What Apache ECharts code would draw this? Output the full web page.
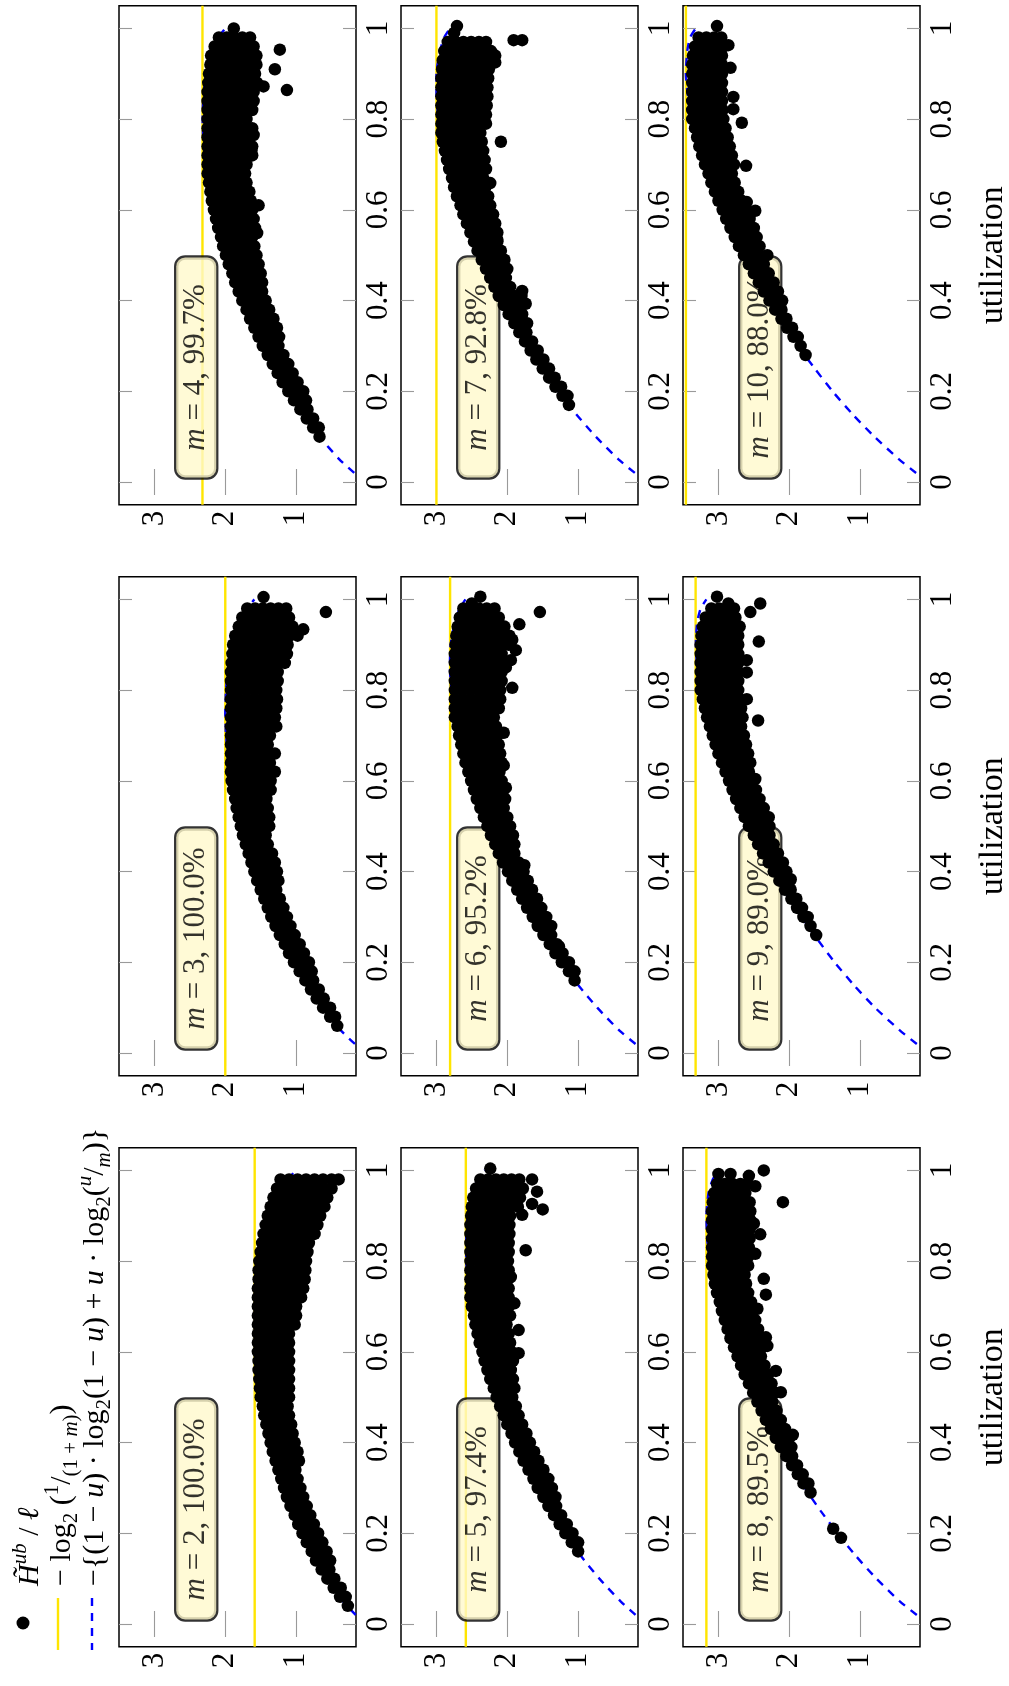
<!DOCTYPE html>
<html>
<head>
<meta charset="utf-8">
<script src="https://cdn.jsdelivr.net/npm/echarts@6.0.0/dist/echarts.min.js"></script>
<style>html,body{margin:0;padding:0;background:#fff}#c{width:1009px;height:1686px}</style>
</head>
<body>
<div id="c"></div>
<script>
// ---------------- data ----------------
const mValues = [2, 3, 4, 5, 6, 7, 8, 9, 10];
const percentLabels = ['100.0', '100.0', '99.7', '97.4', '95.2', '92.8', '89.5', '89.0', '88.0'];
const entropyTicks = [1, 2, 3];
const utilTicks = [0, 0.2, 0.4, 0.6, 0.8, 1];
// -log2(1/(1+m))
const yellowLevels = [1.585, 2.0, 2.322, 2.585, 2.807, 3.0, 3.17, 3.322, 3.459];
// dashed curve, read at these utilizations
const dashU = [0.02,0.05,0.1,0.15,0.2,0.25,0.3,0.35,0.4,0.45,0.5,0.55,0.6,0.65,0.7,0.75,0.8,0.85,0.9,0.95,0.98,1.0];
const dashM2  = [0.16,0.34,0.57,0.76,0.92,1.06,1.18,1.28,1.37,1.44,1.50,1.54,1.57,1.58,1.58,1.56,1.52,1.46,1.37,1.24,1.12,1.00];
const dashM3  = [0.17,0.37,0.63,0.85,1.04,1.21,1.36,1.49,1.61,1.71,1.79,1.86,1.92,1.96,1.99,2.00,1.99,1.96,1.90,1.79,1.69,1.59];
const dashM4  = [0.18,0.39,0.67,0.91,1.12,1.31,1.48,1.63,1.77,1.89,2.00,2.09,2.17,2.23,2.28,2.31,2.32,2.31,2.27,2.19,2.10,2.00];
const dashM5  = [0.19,0.40,0.70,0.96,1.19,1.39,1.58,1.75,1.90,2.04,2.16,2.27,2.36,2.44,2.51,2.55,2.58,2.58,2.56,2.49,2.42,2.32];
const dashM6  = [0.19,0.42,0.73,1.00,1.24,1.46,1.66,1.84,2.01,2.16,2.29,2.41,2.52,2.61,2.69,2.75,2.79,2.81,2.80,2.74,2.67,2.59];
const dashM7  = [0.20,0.43,0.75,1.03,1.28,1.51,1.72,1.92,2.09,2.26,2.40,2.54,2.66,2.76,2.85,2.92,2.97,3.00,3.00,2.95,2.89,2.81];
const dashM8  = [0.20,0.44,0.77,1.06,1.32,1.56,1.78,1.98,2.17,2.34,2.50,2.64,2.77,2.88,2.98,3.06,3.12,3.16,3.17,3.14,3.08,3.00];
const dashM9  = [0.20,0.44,0.79,1.09,1.36,1.60,1.83,2.04,2.24,2.42,2.59,2.74,2.87,2.99,3.10,3.19,3.26,3.30,3.32,3.30,3.25,3.17];
const dashM10 = [0.21,0.45,0.80,1.11,1.39,1.64,1.88,2.10,2.30,2.49,2.66,2.82,2.96,3.09,3.21,3.30,3.38,3.43,3.46,3.44,3.40,3.32];

// scatter points: each row = [utilization, entropy values...]
const dotsM2 = [
[0.04,0.27],[0.06,0.38,0.30],[0.08,0.47,0.37],[0.10,0.56,0.46],[0.12,0.64,0.53],
[0.14,0.72,0.61,0.52],[0.16,0.78,0.67,0.57],[0.18,0.85,0.74,0.63],[0.20,0.91,0.80,0.69],
[0.22,0.97,0.86,0.75],[0.24,1.02,0.91,0.80],[0.26,1.08,0.96,0.85],[0.28,1.13,1.01,0.90],
[0.30,1.17,1.05,0.94],[0.32,1.21,1.09,0.98],[0.34,1.25,1.13,1.01],[0.36,1.29,1.17,1.05,0.96],
[0.38,1.33,1.21,1.09,0.98],[0.40,1.36,1.24,1.12,1.02],[0.42,1.39,1.27,1.15,1.05],
[0.44,1.42,1.30,1.18,1.07],[0.46,1.45,1.33,1.21,1.10],[0.48,1.47,1.35,1.23,1.12],
[0.50,1.50,1.38,1.26,1.14,1.10],[0.52,1.51,1.40,1.28,1.16,1.10],[0.54,1.52,1.41,1.30,1.19,1.10],
[0.56,1.53,1.42,1.31,1.20,1.10],[0.58,1.53,1.43,1.32,1.21,1.10],[0.60,1.54,1.43,1.32,1.21,1.10],
[0.62,1.54,1.43,1.32,1.21,1.10],[0.64,1.54,1.43,1.32,1.21,1.10],[0.66,1.54,1.43,1.32,1.21,1.10,1.02],
[0.68,1.54,1.43,1.32,1.21,1.10,1.00],[0.70,1.54,1.43,1.32,1.21,1.10,1.00],
[0.72,1.54,1.43,1.32,1.21,1.10,0.99,0.93],[0.74,1.54,1.43,1.32,1.21,1.10,0.99,0.90],
[0.76,1.53,1.42,1.31,1.20,1.09,0.98,0.88],[0.78,1.53,1.42,1.31,1.20,1.09,0.98,0.87],
[0.80,1.52,1.41,1.30,1.19,1.08,0.97,0.86],[0.82,1.50,1.39,1.28,1.17,1.06,0.95,0.84],
[0.84,1.48,1.37,1.26,1.15,1.04,0.93,0.82],[0.86,1.46,1.35,1.24,1.13,1.02,0.91,0.80,0.74],
[0.88,1.43,1.32,1.21,1.10,0.99,0.88,0.77,0.70],[0.90,1.40,1.29,1.18,1.07,0.96,0.85,0.74,0.66],
[0.92,1.36,1.25,1.14,1.03,0.92,0.81,0.70,0.60],[0.94,1.32,1.21,1.10,0.99,0.88,0.77,0.66,0.56],
[0.96,1.27,1.16,1.05,0.94,0.83,0.72,0.61,0.50],[0.98,1.22,1.10,0.98,0.86,0.74,0.62,0.50,0.40]
];
const dotsM3 = [
[0.06,0.42],[0.08,0.52,0.45],[0.10,0.62,0.52],[0.12,0.71,0.61],[0.14,0.79,0.68],[0.16,0.87,0.76],
[0.18,0.95,0.84,0.78],[0.20,1.03,0.92,0.82],[0.22,1.10,0.99,0.89],[0.24,1.16,1.05,0.95],
[0.26,1.23,1.12,1.02],[0.28,1.29,1.18,1.08],[0.30,1.35,1.24,1.13],[0.32,1.40,1.29,1.18],
[0.34,1.45,1.34,1.23],[0.36,1.50,1.39,1.28],[0.38,1.55,1.44,1.33,1.25],[0.40,1.59,1.48,1.37,1.27],
[0.42,1.63,1.52,1.41,1.30],[0.44,1.67,1.56,1.45,1.34],[0.46,1.71,1.60,1.49,1.40],
[0.48,1.75,1.64,1.53,1.43],[0.50,1.78,1.67,1.56,1.45,1.38],[0.52,1.81,1.70,1.59,1.48,1.38],
[0.54,1.84,1.73,1.62,1.51,1.40],[0.56,1.86,1.75,1.64,1.53,1.42],[0.58,1.89,1.78,1.67,1.56,1.45,1.36],
[0.60,1.91,1.80,1.69,1.58,1.47,1.36],[0.62,1.92,1.81,1.70,1.59,1.48,1.37,1.30],
[0.64,1.92,1.81,1.70,1.59,1.48,1.37],[0.66,1.92,1.81,1.70,1.59,1.48,1.37,1.30],
[0.68,1.92,1.81,1.70,1.59,1.48,1.40],[0.70,1.92,1.81,1.70,1.59,1.48,1.37],
[0.72,1.92,1.81,1.70,1.59,1.48,1.37,1.28],[0.74,1.92,1.81,1.70,1.59,1.48,1.37,1.30],
[0.76,1.92,1.81,1.70,1.59,1.48,1.37,1.28],[0.78,1.92,1.81,1.70,1.59,1.48,1.37,1.27],
[0.80,1.92,1.81,1.70,1.59,1.48,1.37,1.28],[0.82,1.92,1.81,1.70,1.59,1.48,1.37,1.26],
[0.84,1.92,1.81,1.70,1.59,1.48,1.37,1.26],[0.86,1.91,1.80,1.69,1.58,1.47,1.36,1.25,1.16],
[0.88,1.90,1.79,1.68,1.57,1.46,1.35,1.24,1.13],[0.90,1.89,1.78,1.67,1.56,1.45,1.34,1.23,1.12],
[0.92,1.86,1.75,1.64,1.53,1.42,1.31,1.20,1.09,0.98],[0.94,1.81,1.70,1.59,1.48,1.37,1.26,1.15,1.05],
[0.96,1.76,1.65,1.54,1.43,1.32,1.21,1.10],[0.98,1.69,1.58,1.47,1.36,1.25,1.14],
[1.005,1.46],[0.972,0.58],[0.934,0.90]
];
const dotsM4 = [
[0.10,0.67],[0.12,0.76,0.68],[0.14,0.85,0.76],[0.16,0.94,0.84],[0.18,1.03,0.93,0.86],
[0.20,1.11,1.00,0.90],[0.22,1.19,1.08,0.98],[0.24,1.26,1.15,1.05],[0.26,1.33,1.22,1.11],
[0.28,1.40,1.29,1.18],[0.30,1.47,1.36,1.25],[0.32,1.53,1.42,1.31,1.24],[0.34,1.59,1.48,1.37,1.27],
[0.36,1.65,1.54,1.43,1.32],[0.38,1.70,1.59,1.48,1.38],[0.40,1.76,1.65,1.54,1.43],
[0.42,1.81,1.70,1.59,1.48],[0.44,1.86,1.75,1.64,1.53,1.48],[0.46,1.90,1.79,1.68,1.57,1.50],
[0.48,1.95,1.84,1.73,1.62,1.53],[0.50,1.99,1.88,1.77,1.66,1.56],[0.52,2.03,1.92,1.81,1.70,1.59],
[0.54,2.06,1.95,1.84,1.73,1.62],[0.56,2.10,1.99,1.88,1.77,1.66,1.58],[0.58,2.13,2.02,1.91,1.80,1.69,1.60],
[0.60,2.16,2.05,1.94,1.83,1.72,1.62],[0.62,2.19,2.08,1.97,1.86,1.75,1.64],
[0.64,2.21,2.10,1.99,1.88,1.77,1.66],[0.66,2.23,2.12,2.01,1.90,1.79,1.70],
[0.68,2.25,2.14,2.03,1.92,1.81,1.72],[0.70,2.25,2.14,2.03,1.92,1.81,1.70],
[0.72,2.25,2.14,2.03,1.92,1.81,1.70,1.62],[0.74,2.25,2.14,2.03,1.92,1.81,1.70,1.62],
[0.76,2.25,2.14,2.03,1.92,1.81,1.70],[0.78,2.25,2.14,2.03,1.92,1.81,1.70,1.62],
[0.80,2.25,2.14,2.03,1.92,1.81,1.70],[0.82,2.25,2.14,2.03,1.92,1.81,1.70,1.62],
[0.84,2.25,2.14,2.03,1.92,1.81,1.70,1.60],[0.86,2.25,2.14,2.03,1.92,1.81,1.70,1.60],
[0.88,2.24,2.13,2.02,1.91,1.80,1.69,1.60,1.55],[0.90,2.23,2.12,2.01,1.90,1.79,1.68,1.58],
[0.92,2.21,2.10,1.99,1.88,1.77,1.66,1.56],[0.94,2.20,2.09,1.98,1.87,1.76,1.65,1.56],
[0.96,2.15,2.04,1.93,1.82,1.71,1.60],[0.98,2.09,1.98,1.87,1.76,1.65],
[1.0,1.88],[0.953,1.23],[0.864,1.13],[0.91,1.30],[0.872,1.46],[0.61,1.53],[0.549,1.55],[0.765,1.60],[0.731,1.63]
];
const dotsM5 = [
[0.16,1.00],[0.18,1.09,1.00],[0.20,1.18,1.08],[0.22,1.26,1.16],[0.24,1.34,1.24],[0.26,1.42,1.31],
[0.28,1.49,1.38,1.32],[0.30,1.57,1.46,1.37],[0.32,1.63,1.52,1.42],[0.34,1.70,1.59,1.49],
[0.36,1.77,1.66,1.56],[0.38,1.83,1.72,1.62],[0.40,1.89,1.78,1.68],[0.42,1.94,1.83,1.73],
[0.44,2.00,1.89,1.79],[0.46,2.05,1.94,1.84],[0.48,2.10,1.99,1.88],[0.50,2.15,2.04,1.93],
[0.52,2.19,2.08,1.97,1.90],[0.54,2.24,2.13,2.02,1.92],[0.56,2.28,2.17,2.06,1.95],
[0.58,2.32,2.21,2.10,1.99,1.92],[0.60,2.35,2.24,2.13,2.02,1.94],[0.62,2.39,2.28,2.17,2.06,1.96],
[0.64,2.42,2.31,2.20,2.09,1.98],[0.66,2.45,2.34,2.23,2.12,2.01],[0.68,2.47,2.36,2.25,2.14,2.03,1.96],
[0.70,2.50,2.39,2.28,2.17,2.06,1.98],[0.72,2.52,2.41,2.30,2.19,2.08,1.98],
[0.74,2.52,2.41,2.30,2.19,2.08,1.98],[0.76,2.52,2.41,2.30,2.19,2.08,1.99],
[0.78,2.52,2.41,2.30,2.19,2.08,1.98],[0.80,2.52,2.41,2.30,2.19,2.08,1.99],
[0.82,2.52,2.41,2.30,2.19,2.08,1.98],[0.84,2.52,2.41,2.30,2.19,2.08,1.98],
[0.86,2.52,2.41,2.30,2.19,2.08,1.97],[0.88,2.52,2.41,2.30,2.19,2.08,1.97],
[0.90,2.51,2.40,2.29,2.18,2.07,1.96],[0.92,2.50,2.39,2.28,2.17,2.06,1.95,1.85],
[0.94,2.48,2.37,2.26,2.15,2.04,1.93,1.82],[0.96,2.44,2.33,2.22,2.11,2.00,1.89,1.78],
[0.98,2.38,2.27,2.16,2.05,1.94,1.83],
[1.004,2.24],[0.824,1.74],[0.597,1.84],[0.648,1.84],[0.707,1.90],[0.765,1.95],[0.914,1.50],[0.926,1.65],[0.953,1.58],[0.98,1.65],[0.902,1.79]
];
const dotsM6 = [
[0.16,1.05],[0.18,1.13,1.05],[0.20,1.23,1.13],[0.22,1.32,1.22],[0.24,1.40,1.30],[0.26,1.49,1.38],
[0.28,1.57,1.46,1.38],[0.30,1.64,1.53,1.45],[0.32,1.72,1.61,1.52],[0.34,1.79,1.68,1.58],
[0.36,1.86,1.75,1.65],[0.38,1.93,1.82,1.71],[0.40,1.99,1.88,1.77],[0.42,2.06,1.95,1.84],
[0.44,2.12,2.01,1.90],[0.46,2.17,2.06,1.95,1.90],[0.48,2.23,2.12,2.01,1.92],[0.50,2.28,2.17,2.06,1.96],
[0.52,2.33,2.22,2.11,2.00],[0.54,2.38,2.27,2.16,2.05],[0.56,2.43,2.32,2.21,2.10,2.03],
[0.58,2.47,2.36,2.25,2.14,2.05],[0.60,2.51,2.40,2.29,2.18,2.08],[0.62,2.55,2.44,2.33,2.22,2.11],
[0.64,2.59,2.48,2.37,2.26,2.15,2.08],[0.66,2.62,2.51,2.40,2.29,2.18,2.10],
[0.68,2.65,2.54,2.43,2.32,2.21,2.12],[0.70,2.68,2.57,2.46,2.35,2.24,2.14],
[0.72,2.70,2.59,2.48,2.37,2.26,2.16],[0.74,2.74,2.63,2.52,2.41,2.30,2.19],
[0.76,2.74,2.63,2.52,2.41,2.30,2.19,2.12],[0.78,2.74,2.63,2.52,2.41,2.30,2.19,2.10],
[0.80,2.74,2.63,2.52,2.41,2.30,2.19,2.10],[0.82,2.74,2.63,2.52,2.41,2.30,2.19,2.08],
[0.84,2.74,2.63,2.52,2.41,2.30,2.19,2.08],[0.86,2.74,2.63,2.52,2.41,2.30,2.19,2.08],
[0.88,2.74,2.63,2.52,2.41,2.30,2.19,2.08],[0.90,2.73,2.62,2.51,2.40,2.29,2.18,2.07,1.98],
[0.92,2.72,2.61,2.50,2.39,2.28,2.17,2.06,1.97],[0.94,2.70,2.59,2.48,2.37,2.26,2.15,2.04],
[0.96,2.67,2.56,2.45,2.34,2.23,2.12],[0.98,2.62,2.51,2.40,2.29,2.18],
[1.006,2.38],[0.991,2.50],[0.972,1.54],[0.945,1.83],[0.911,1.93],[0.888,1.88],[0.866,1.95],[0.85,2.02],[0.805,1.93],[0.706,2.05],[0.634,2.05],[0.585,2.02],[0.414,1.76],[0.235,1.27]
];
const dotsM7 = [
[0.17,1.13],[0.19,1.22,1.15],[0.21,1.32,1.24],[0.23,1.41,1.33],[0.25,1.50,1.41],[0.27,1.59,1.49],
[0.29,1.67,1.57],[0.31,1.75,1.65],[0.33,1.83,1.73],[0.35,1.90,1.80,1.72],[0.37,1.98,1.87,1.79],
[0.39,2.05,1.94,1.84],[0.41,2.12,2.01,1.90,1.80],[0.43,2.18,2.07,1.96],[0.45,2.24,2.13,2.02],
[0.47,2.30,2.19,2.08,2.00],[0.49,2.36,2.25,2.14,2.04],[0.51,2.42,2.31,2.20,2.09],
[0.53,2.47,2.36,2.25,2.14],[0.55,2.52,2.41,2.30,2.19,2.14],[0.57,2.57,2.46,2.35,2.24,2.17],
[0.59,2.62,2.51,2.40,2.29,2.20],[0.61,2.66,2.55,2.44,2.33,2.24],[0.63,2.71,2.60,2.49,2.38,2.27],
[0.65,2.75,2.64,2.53,2.42,2.31],[0.67,2.78,2.67,2.56,2.45,2.34],[0.69,2.82,2.71,2.60,2.49,2.38,2.30],
[0.71,2.85,2.74,2.63,2.52,2.41,2.32],[0.73,2.88,2.77,2.66,2.55,2.44,2.34],
[0.75,2.91,2.80,2.69,2.58,2.47,2.36],[0.77,2.93,2.82,2.71,2.60,2.49,2.38],
[0.79,2.93,2.82,2.71,2.60,2.49,2.38,2.30],[0.81,2.93,2.82,2.71,2.60,2.49,2.38,2.30],
[0.83,2.93,2.82,2.71,2.60,2.49,2.38,2.29],[0.85,2.93,2.82,2.71,2.60,2.49,2.38,2.28],
[0.87,2.93,2.82,2.71,2.60,2.49,2.38,2.28],[0.89,2.93,2.82,2.71,2.60,2.49,2.38,2.27],
[0.91,2.92,2.81,2.70,2.59,2.48,2.37,2.26],[0.93,2.91,2.80,2.69,2.58,2.47,2.36,2.25],
[0.95,2.89,2.78,2.67,2.56,2.45,2.34,2.23],[0.97,2.84,2.73,2.62,2.51,2.40,2.30],
[1.005,2.71],[0.99,2.75],[0.974,1.91],[0.974,1.79],[0.925,2.17],[0.94,2.17],[0.876,2.31],[0.75,2.09],[0.659,2.24],[0.534,2.14],[0.421,1.79],[0.393,1.74]
];
const dotsM8 = [
[0.19,1.27],[0.21,1.38],[0.29,1.70],[0.31,1.80,1.73],[0.33,1.88,1.81],[0.35,1.96,1.89],
[0.37,2.04,1.96],[0.39,2.12,2.03,1.97],[0.41,2.19,2.09,2.00],[0.43,2.26,2.16,2.06],
[0.45,2.33,2.22,2.12],[0.47,2.39,2.28,2.18],[0.49,2.45,2.34,2.24],[0.51,2.51,2.40,2.29,2.20],
[0.53,2.57,2.46,2.35,2.25],[0.55,2.63,2.52,2.41,2.30],[0.57,2.68,2.57,2.46,2.35],
[0.59,2.73,2.62,2.51,2.40],[0.61,2.78,2.67,2.56,2.45,2.38],[0.63,2.83,2.72,2.61,2.50,2.41],
[0.65,2.87,2.76,2.65,2.54,2.44],[0.67,2.91,2.80,2.69,2.58,2.48],[0.69,2.95,2.84,2.73,2.62,2.51],
[0.71,2.98,2.87,2.76,2.65,2.54],[0.73,3.02,2.91,2.80,2.69,2.58],[0.75,3.05,2.94,2.83,2.72,2.61],
[0.77,3.07,2.96,2.85,2.74,2.63],[0.79,3.09,2.98,2.87,2.76,2.65,2.58],[0.81,3.09,2.98,2.87,2.76,2.65,2.58],
[0.83,3.09,2.98,2.87,2.76,2.65,2.57],[0.85,3.09,2.98,2.87,2.76,2.65,2.56],
[0.87,3.09,2.98,2.87,2.76,2.65,2.56],[0.89,3.09,2.98,2.87,2.76,2.65,2.55],
[0.91,3.09,2.98,2.87,2.76,2.65,2.55],[0.93,3.08,2.97,2.86,2.75,2.64,2.56],
[0.95,3.06,2.95,2.84,2.73,2.62],[0.97,3.02,2.91,2.80,2.69,2.60],
[0.992,3.00],[0.992,2.83],[1.0,2.36],[0.988,2.57],[0.965,2.48],[0.93,2.09],[0.883,2.50],[0.859,2.41],[0.816,2.48],[0.761,2.36],[0.726,2.33],[0.695,2.45],[0.613,2.31],[0.632,2.33],[0.558,2.19],[0.511,2.12],[0.417,1.95]
];
const dotsM9 = [
[0.26,1.62],[0.28,1.70],[0.30,1.80,1.74],[0.32,1.89,1.82],[0.34,1.97,1.90],[0.36,2.06,1.98],
[0.38,2.14,2.05,1.99],[0.40,2.22,2.12,2.04],[0.42,2.29,2.19,2.09],[0.44,2.37,2.26,2.16],
[0.46,2.44,2.33,2.22],[0.48,2.50,2.39,2.28],[0.50,2.57,2.46,2.35,2.28],[0.52,2.63,2.52,2.41,2.31],
[0.54,2.69,2.58,2.47,2.36],[0.56,2.75,2.64,2.53,2.42],[0.58,2.80,2.69,2.58,2.47],
[0.60,2.85,2.74,2.63,2.52],[0.62,2.90,2.79,2.68,2.57],[0.64,2.95,2.84,2.73,2.62,2.55],
[0.66,3.00,2.89,2.78,2.67,2.58],[0.68,3.04,2.93,2.82,2.71,2.61],[0.70,3.08,2.97,2.86,2.75,2.64],
[0.72,3.12,3.01,2.90,2.79,2.68],[0.74,3.16,3.05,2.94,2.83,2.72,2.66],[0.76,3.19,3.08,2.97,2.86,2.75,2.68],
[0.78,3.22,3.11,3.00,2.89,2.78,2.70],[0.80,3.25,3.14,3.03,2.92,2.81,2.72],
[0.82,3.25,3.14,3.03,2.92,2.81,2.72],[0.84,3.25,3.14,3.03,2.92,2.81,2.72],
[0.86,3.25,3.14,3.03,2.92,2.81,2.72],[0.88,3.25,3.14,3.03,2.92,2.81,2.72],
[0.90,3.25,3.14,3.03,2.92,2.81,2.72],[0.92,3.24,3.13,3.02,2.91,2.80,2.72],
[0.94,3.22,3.11,3.00,2.89,2.78,2.70],[0.96,3.18,3.07,2.96,2.85,2.76],[0.98,3.10,2.99,2.88,2.78],
[1.006,3.02],[0.991,2.86],[0.991,2.41],[0.972,2.55],[0.907,2.43],[0.866,2.60],[0.839,2.60],[0.78,2.60],[0.733,2.44],[0.604,2.48],[0.547,2.50],[0.52,2.29],[0.383,1.98],[0.319,1.86]
];
const dotsM10 = [
[0.28,1.77],[0.30,1.84],[0.32,1.94,1.88],[0.34,2.03,1.96],[0.36,2.11,2.04],[0.38,2.20,2.11],
[0.40,2.28,2.18,2.10],[0.42,2.36,2.26,2.16],[0.44,2.43,2.32,2.22],[0.46,2.50,2.39,2.29],
[0.48,2.57,2.46,2.36],[0.50,2.64,2.53,2.42],[0.52,2.71,2.60,2.49,2.42],[0.54,2.77,2.66,2.55,2.46],
[0.56,2.83,2.72,2.61,2.50],[0.58,2.89,2.78,2.67,2.56],[0.60,2.94,2.83,2.72,2.61],
[0.62,3.00,2.89,2.78,2.67],[0.64,3.05,2.94,2.83,2.72],[0.66,3.10,2.99,2.88,2.77],
[0.68,3.14,3.03,2.92,2.81],[0.70,3.19,3.08,2.97,2.86,2.78],[0.72,3.23,3.12,3.01,2.90,2.81],
[0.74,3.27,3.16,3.05,2.94,2.84],[0.76,3.30,3.19,3.08,2.97,2.87],[0.78,3.33,3.22,3.11,3.00,2.90],
[0.80,3.37,3.26,3.15,3.04,2.93],[0.82,3.37,3.26,3.15,3.04,2.94],[0.84,3.37,3.26,3.15,3.04,2.95],
[0.86,3.37,3.26,3.15,3.04,2.95],[0.88,3.37,3.26,3.15,3.04,2.95],[0.90,3.37,3.26,3.15,3.04,2.95],
[0.92,3.37,3.26,3.15,3.04,2.95],[0.94,3.36,3.25,3.14,3.03,2.95],[0.96,3.33,3.22,3.11,3.00,2.93],
[0.98,3.28,3.17,3.06,2.96],
[1.005,3.02],[0.963,2.86],[0.913,2.83],[0.849,2.79],[0.822,2.79],[0.792,2.67],[0.697,2.61],[0.617,2.60],[0.598,2.48],[0.545,2.50],[0.50,2.31]
];
// label box centre in data coordinates (entropy, utilization)
const boxCenter = [2.41, 0.2525];

// ---------------- build ----------------
const dotsByPanel = [dotsM2, dotsM3, dotsM4, dotsM5, dotsM6, dotsM7, dotsM8, dotsM9, dotsM10];
const dashByPanel = [dashM2, dashM3, dashM4, dashM5, dashM6, dashM7, dashM8, dashM9, dashM10];
const FONT = "'Liberation Serif', 'DejaVu Serif', serif";
const colLeft = [119, 401, 683];
const rowTop = [5.7, 576.7, 1147.7];
const PW = 237, PH = 499;
const H_MIN = 0.155, H_MAX = 3.5, U_MIN = -0.05, U_MAX = 1.05;

function rowsToPoints(rows) {
  const out = [];
  rows.forEach(r => { for (let k = 1; k < r.length; k++) out.push([r[k], r[0]]); });
  return out;
}

const grids = [], xAxes = [], yAxes = [], series = [];
const tickStyle = { inside: true, length: 13, lineStyle: { color: '#9a9a9a', width: 1.1 } };
const labelFont = { fontFamily: FONT, fontSize: 31, color: '#000' };

mValues.forEach((m, i) => {
  const col = Math.floor(i / 3);
  const row = 2 - (i % 3);
  grids.push({ left: colLeft[col], top: rowTop[row], width: PW, height: PH,
    show: true, borderColor: '#000', borderWidth: 1.5, backgroundColor: 'transparent',
    containLabel: false, outerBoundsMode: 'none' });
  xAxes.push({ gridIndex: i, type: 'value', min: H_MIN, max: H_MAX, inverse: true, position: 'bottom',
    axisLine: { show: false }, splitLine: { show: false },
    axisTick: Object.assign({ customValues: entropyTicks }, tickStyle),
    axisLabel: Object.assign({ customValues: entropyTicks, rotate: 90, margin: 6 }, labelFont) });
  xAxes.push({ gridIndex: i, type: 'value', min: H_MIN, max: H_MAX, inverse: true, position: 'top',
    axisLine: { show: false }, splitLine: { show: false },
    axisTick: Object.assign({ customValues: entropyTicks }, tickStyle),
    axisLabel: { show: false, customValues: entropyTicks } });
  yAxes.push({ gridIndex: i, type: 'value', min: U_MIN, max: U_MAX, position: 'right',
    axisLine: { show: false }, splitLine: { show: false },
    axisTick: Object.assign({ customValues: utilTicks }, tickStyle),
    axisLabel: Object.assign({ customValues: utilTicks, rotate: 90, margin: 7 }, labelFont),
    name: col === 2 ? 'utilization' : '', nameLocation: 'middle', nameRotate: 90, nameGap: 56,
    nameTextStyle: { fontFamily: FONT, fontSize: 34, color: '#000' } });
  yAxes.push({ gridIndex: i, type: 'value', min: U_MIN, max: U_MAX, position: 'left',
    axisLine: { show: false }, splitLine: { show: false },
    axisTick: Object.assign({ customValues: utilTicks }, tickStyle),
    axisLabel: { show: false, customValues: utilTicks } });

  const ax = { xAxisIndex: 2 * i, yAxisIndex: 2 * i };
  series.push(Object.assign({ type: 'line', name: 'ref' + m, symbol: 'none', silent: true, z: 1,
    data: [[yellowLevels[i], U_MIN], [yellowLevels[i], U_MAX]],
    lineStyle: { color: '#ffe500', width: 2.4, opacity: 1 } }, ax));
  series.push(Object.assign({ type: 'line', name: 'bound' + m, symbol: 'none', silent: true, z: 2, smooth: 0.2,
    data: dashU.map((u, k) => [dashByPanel[i][k], u]),
    lineStyle: { color: '#0000ff', width: 2.4, type: [8, 7], opacity: 1 } }, ax));
  series.push(Object.assign({ type: 'scatter', name: 'box' + m, silent: true, z: 3,
    data: [boxCenter], symbolSize: 1, itemStyle: { color: 'rgba(0,0,0,0)' },
    label: { show: true, position: 'inside', rotate: 90,
      formatter: '{it|m}{n| = ' + m + ', ' + percentLabels[i] + '%}',
      rich: {
        it: { fontFamily: FONT, fontStyle: 'italic', fontSize: 31, color: '#000', align: 'center' },
        n: { fontFamily: FONT, fontSize: 31, color: '#000', align: 'center' }
      },
      backgroundColor: '#fff9cc', borderColor: '#000', borderWidth: 2.2, borderRadius: 9,
      padding: [3, 8], width: 204, height: 34, lineHeight: 34, align: 'center', verticalAlign: 'middle' } }, ax));
  series.push(Object.assign({ type: 'scatter', name: 'Hub' + m, silent: true, z: 4,
    data: rowsToPoints(dotsByPanel[i]), symbolSize: 12.5,
    itemStyle: { color: '#000', opacity: 1, borderWidth: 0 } }, ax));
});

const legendRich = {
  n: { fontFamily: FONT, fontSize: 30, lineHeight: 40, fill: '#000' },
  it: { fontFamily: FONT, fontStyle: 'italic', fontSize: 30, lineHeight: 40, fill: '#000' },
  sub: { fontFamily: FONT, fontSize: 21, lineHeight: 26, verticalAlign: 'bottom', fill: '#000' },
  subit: { fontFamily: FONT, fontStyle: 'italic', fontSize: 21, lineHeight: 26, verticalAlign: 'bottom', fill: '#000' },
  sup: { fontFamily: FONT, fontSize: 21, lineHeight: 26, verticalAlign: 'top', fill: '#000' },
  supit: { fontFamily: FONT, fontStyle: 'italic', fontSize: 21, lineHeight: 26, verticalAlign: 'top', fill: '#000' }
};
const legendTexts = [
  '{it|H\u0303}{supit|ub}{n| / }{it|\u2113}',
  '{n|\u2212 log}{sub|2}{n| (}{sup|1}{n|/}{sub|(1 + }{subit|m}{sub|)}{n|)}',
  '{n|\u2212{(1 \u2212 }{it|u}{n|) \u00b7 log}{sub|2}{n|(1 \u2212 }{it|u}{n|) + }{it|u}{n| \u00b7 log}{sub|2}{n|(}{supit|u}{n|/}{subit|m}{n|)\u007d}'
];
const legendX = [30, 62, 95];
const graphic = [
  { type: 'circle', shape: { cx: 23, cy: 1623, r: 6.5 }, style: { fill: '#000' } },
  { type: 'line', shape: { x1: 58, y1: 1598, x2: 58, y2: 1650 }, style: { stroke: '#ffe500', lineWidth: 2.4 } },
  { type: 'line', shape: { x1: 92, y1: 1598, x2: 92, y2: 1650 }, style: { stroke: '#0000ff', lineWidth: 2.4, lineDash: [8, 7] } }
];
legendTexts.forEach((t, k) => {
  graphic.push({ type: 'text', x: legendX[k], y: 1586, rotation: Math.PI / 2,
    style: { text: t, rich: legendRich, align: 'left', verticalAlign: 'middle', fontFamily: FONT, fontSize: 30, fill: '#000' } });
});

const chart = echarts.init(document.getElementById('c'), null, { renderer: 'canvas' });
chart.setOption({
  animation: false,
  backgroundColor: '#fff',
  textStyle: { fontFamily: FONT },
  grid: grids, xAxis: xAxes, yAxis: yAxes, series: series, graphic: graphic
});
</script>
</body>
</html>
